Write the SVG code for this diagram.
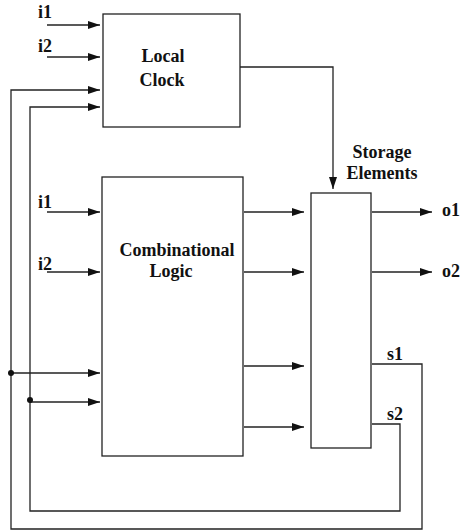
<svg xmlns="http://www.w3.org/2000/svg" width="460" height="531" viewBox="0 0 460 531">
<style>
.box{fill:#fff;stroke:#222;stroke-width:1.3}
.w{fill:none;stroke:#222;stroke-width:1.3}
.a{fill:none;stroke:#222;stroke-width:1.3;marker-end:url(#ah)}
text{font-family:"Liberation Serif","Times New Roman",serif;font-weight:bold;font-size:18px;fill:#111}
.c{text-anchor:middle}
</style>
<defs>
<marker id="ah" viewBox="0 0 12 8" refX="12" refY="4" markerWidth="12" markerHeight="8" markerUnits="userSpaceOnUse" orient="auto">
<path d="M0,0 L12,4 L0,8 Z" fill="#111"/>
</marker>
</defs>
<rect width="460" height="531" fill="#fff"/>
<g id="local-clock">
<rect class="box" x="103" y="14" width="137" height="113"/>
<text class="c" x="163" y="62">Local</text>
<text class="c" x="162" y="86">Clock</text>
</g>
<g id="combinational-logic">
<rect class="box" x="102" y="177" width="141" height="279"/>
<text class="c" x="177" y="256">Combinational</text>
<text class="c" x="171" y="277">Logic</text>
</g>
<g id="storage-elements">
<rect class="box" x="311" y="193" width="60" height="255"/>
<text class="c" x="382" y="158">Storage</text>
<text class="c" x="382" y="179">Elements</text>
</g>
<g id="labels">
<text x="38" y="18">i1</text>
<text x="38" y="52">i2</text>
<text x="38" y="208">i1</text>
<text x="38" y="270">i2</text>
<text x="442" y="216">o1</text>
<text x="442" y="277">o2</text>
<text x="387" y="360">s1</text>
<text x="387" y="420">s2</text>
</g>
<g id="connectors">
<line class="a" x1="47" y1="25" x2="100" y2="25"/>
<line class="a" x1="47" y1="57" x2="100" y2="57"/>
<polyline class="a" points="372,364 422,364 422,529 11,529 11,90 100,90"/>
<polyline class="a" points="372,424 400,424 400,511 30,511 30,107 100,107"/>
<polyline class="a" points="240,67 333,67 333,189"/>
<line class="a" x1="47" y1="212" x2="100" y2="212"/>
<line class="a" x1="47" y1="272" x2="100" y2="272"/>
<line class="a" x1="11" y1="373" x2="100" y2="373"/>
<line class="a" x1="30" y1="402" x2="100" y2="402"/>
<circle cx="11" cy="373" r="3" fill="#111"/>
<circle cx="30" cy="400" r="3" fill="#111"/>
<line class="a" x1="244" y1="212" x2="304" y2="212"/>
<line class="a" x1="244" y1="272" x2="304" y2="272"/>
<line class="a" x1="244" y1="366" x2="304" y2="366"/>
<line class="a" x1="244" y1="427" x2="304" y2="427"/>
<line class="a" x1="372" y1="212" x2="432" y2="212"/>
<line class="a" x1="372" y1="272" x2="432" y2="272"/>
</g>
</svg>
